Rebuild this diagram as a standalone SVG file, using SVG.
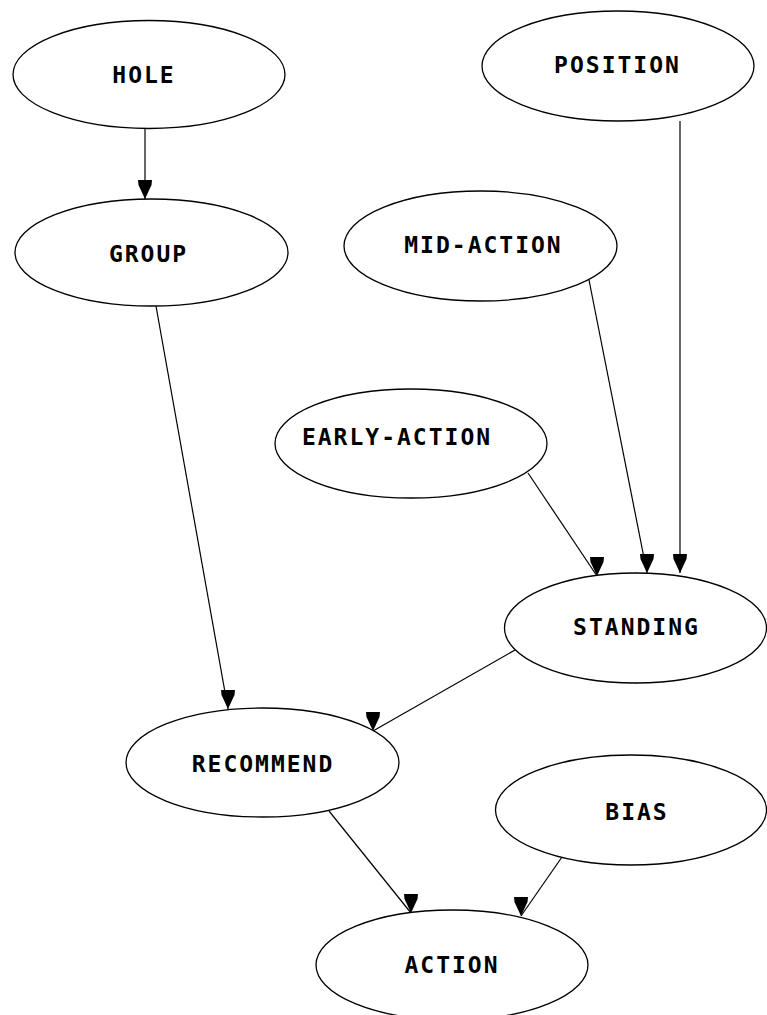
<svg xmlns="http://www.w3.org/2000/svg" width="767" height="1015" viewBox="0 0 767 1015">
<style>
.node ellipse{fill:#ffffff;stroke:#000000;stroke-width:1.3}
.node text{font-family:"DejaVu Sans Mono","Liberation Mono",monospace;font-weight:bold;font-size:23px;letter-spacing:2px;text-anchor:middle;fill:#000000}
.edge{stroke:#000000;stroke-width:1.2;fill:none;marker-end:url(#arr)}
</style>
<defs>
<marker id="arr" markerUnits="userSpaceOnUse" markerWidth="20" markerHeight="22" refX="7" refY="19" orient="0" overflow="visible">
<path d="M0,0 L14,0 L13.5,5 L7,19 L0.5,5 Z" fill="#000000"/>
</marker>
</defs>
<rect width="767" height="1015" fill="#ffffff"/>
<g id="connectors">
<line class="edge" x1="145" y1="128" x2="145" y2="199"/>
<line class="edge" x1="680" y1="121" x2="680" y2="573"/>
<line class="edge" x1="589" y1="280" x2="647" y2="573"/>
<line class="edge" x1="528" y1="473" x2="597" y2="576"/>
<line class="edge" x1="156" y1="306" x2="228" y2="709"/>
<line class="edge" x1="515" y1="650" x2="373" y2="731"/>
<line class="edge" x1="329" y1="811" x2="411" y2="913"/>
<line class="edge" x1="562" y1="857" x2="521" y2="916"/>
</g>
<g id="node-hole" class="node">
<ellipse cx="149" cy="74.5" rx="136" ry="54"/>
<text x="144" y="83">HOLE</text>
</g>
<g id="node-group" class="node">
<ellipse cx="151.5" cy="252.5" rx="136.5" ry="53.5"/>
<text x="148.5" y="262">GROUP</text>
</g>
<g id="node-position" class="node">
<ellipse cx="618" cy="66" rx="136" ry="55"/>
<text x="617.5" y="73">POSITION</text>
</g>
<g id="node-mid-action" class="node">
<ellipse cx="480.5" cy="246" rx="136.5" ry="55"/>
<text x="483.5" y="253">MID-ACTION</text>
</g>
<g id="node-early-action" class="node">
<ellipse cx="411" cy="443.5" rx="136" ry="54.5"/>
<text x="397" y="445">EARLY-ACTION</text>
</g>
<g id="node-standing" class="node">
<ellipse cx="635.5" cy="628" rx="131" ry="55"/>
<text x="636.5" y="635">STANDING</text>
</g>
<g id="node-recommend" class="node">
<ellipse cx="262.5" cy="762.5" rx="136.5" ry="54.5"/>
<text x="263" y="772">RECOMMEND</text>
</g>
<g id="node-bias" class="node">
<ellipse cx="631" cy="810" rx="135.5" ry="55"/>
<text x="637" y="820">BIAS</text>
</g>
<g id="node-action" class="node">
<ellipse cx="452" cy="965" rx="136" ry="55"/>
<text x="452" y="973">ACTION</text>
</g>
</svg>
